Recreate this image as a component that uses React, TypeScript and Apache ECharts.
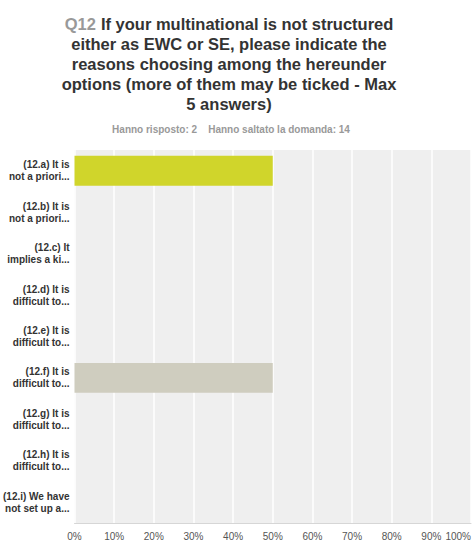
import React, { useEffect, useRef } from "react";
import * as echarts from "echarts";

const categories = [
  "(12.a) It is\nnot a priori...",
  "(12.b) It is\nnot a priori...",
  "(12.c) It\nimplies a ki...",
  "(12.d) It is\ndifficult to...",
  "(12.e) It is\ndifficult to...",
  "(12.f) It is\ndifficult to...",
  "(12.g) It is\ndifficult to...",
  "(12.h) It is\ndifficult to...",
  "(12.i) We have\nnot set up a...",
];
const values = [50, 0, 0, 0, 0, 50, 0, 0, 0];
const barColors = ["#d0d52b", "#d0d42a", "#d0d42a", "#d0d42a", "#d0d42a", "#cfcdbf", "#d0d42a", "#d0d42a", "#d0d42a"];
const titleLines = [
  "If your multinational is not structured",
  "either as EWC or SE, please indicate the",
  "reasons choosing among the hereunder",
  "options (more of them may be ticked - Max",
  "5 answers)",
];
const subtitle = "Hanno risposto: 2    Hanno saltato la domanda: 14";

const FONT = "'Liberation Sans', Arial, Helvetica, sans-serif";

export default function App() {
  const ref = useRef<HTMLDivElement>(null);
  useEffect(() => {
    if (!ref.current) return;
    const chart = echarts.init(ref.current, null, { renderer: "svg" });
    const titleText =
      "{q|Q12} {b|" + titleLines[0] + "}\n" +
      titleLines.slice(1).map((l) => "{b|" + l + "}").join("\n");
    chart.setOption({
      animation: false,
      backgroundColor: "#ffffff",
      title: [
        {
          text: titleText,
          left: 224,
          top: 9,
          textAlign: "center",
          textStyle: {
            fontFamily: FONT,
            rich: {
              q: { fontSize: 16.5, fontWeight: "bold", color: "#999999", fontFamily: FONT, lineHeight: 20 },
              b: { fontSize: 16.5, fontWeight: "bold", color: "#333333", fontFamily: FONT, lineHeight: 20 },
            },
          },
        },
        {
          text: subtitle,
          left: 226,
          top: 119,
          textAlign: "center",
          textStyle: { fontFamily: FONT, fontSize: 10, fontWeight: "bold", color: "#999999" },
        },
      ],
      grid: {
        left: 74,
        right: 1,
        top: 150,
        bottom: 20,
        show: true,
        backgroundColor: "#efefef",
        borderWidth: 0,
        containLabel: false,
      },
      xAxis: {
        type: "value",
        min: 0,
        max: 100,
        interval: 10,
        axisLine: { show: true, lineStyle: { color: "#d6d6d6", width: 1 } },
        axisTick: { show: false },
        splitLine: { show: true, lineStyle: { color: "#ffffff", width: 1.5 } },
        axisLabel: {
          formatter: "{value}%",
          fontFamily: FONT,
          fontSize: 10,
          color: "#555555",
          margin: 8,
          alignMaxLabel: "right",
        },
      },
      yAxis: {
        type: "category",
        data: categories,
        inverse: true,
        axisLine: { show: false },
        axisTick: { show: false },
        splitLine: { show: false },
        axisLabel: {
          fontFamily: FONT,
          fontSize: 10,
          fontWeight: "bold",
          color: "#333333",
          lineHeight: 12,
          margin: 5,
          align: "right",
        },
      },
      series: [
        {
          type: "bar",
          data: values.map((v, i) => ({ value: v, itemStyle: { color: barColors[i] } })),
          barCategoryGap: "28%",
          label: { show: false },
        },
      ],
    });
    return () => chart.dispose();
  }, []);
  return <div ref={ref} style={{ width: 474, height: 543, position: "absolute", left: 0, top: 0 }} />;
}
